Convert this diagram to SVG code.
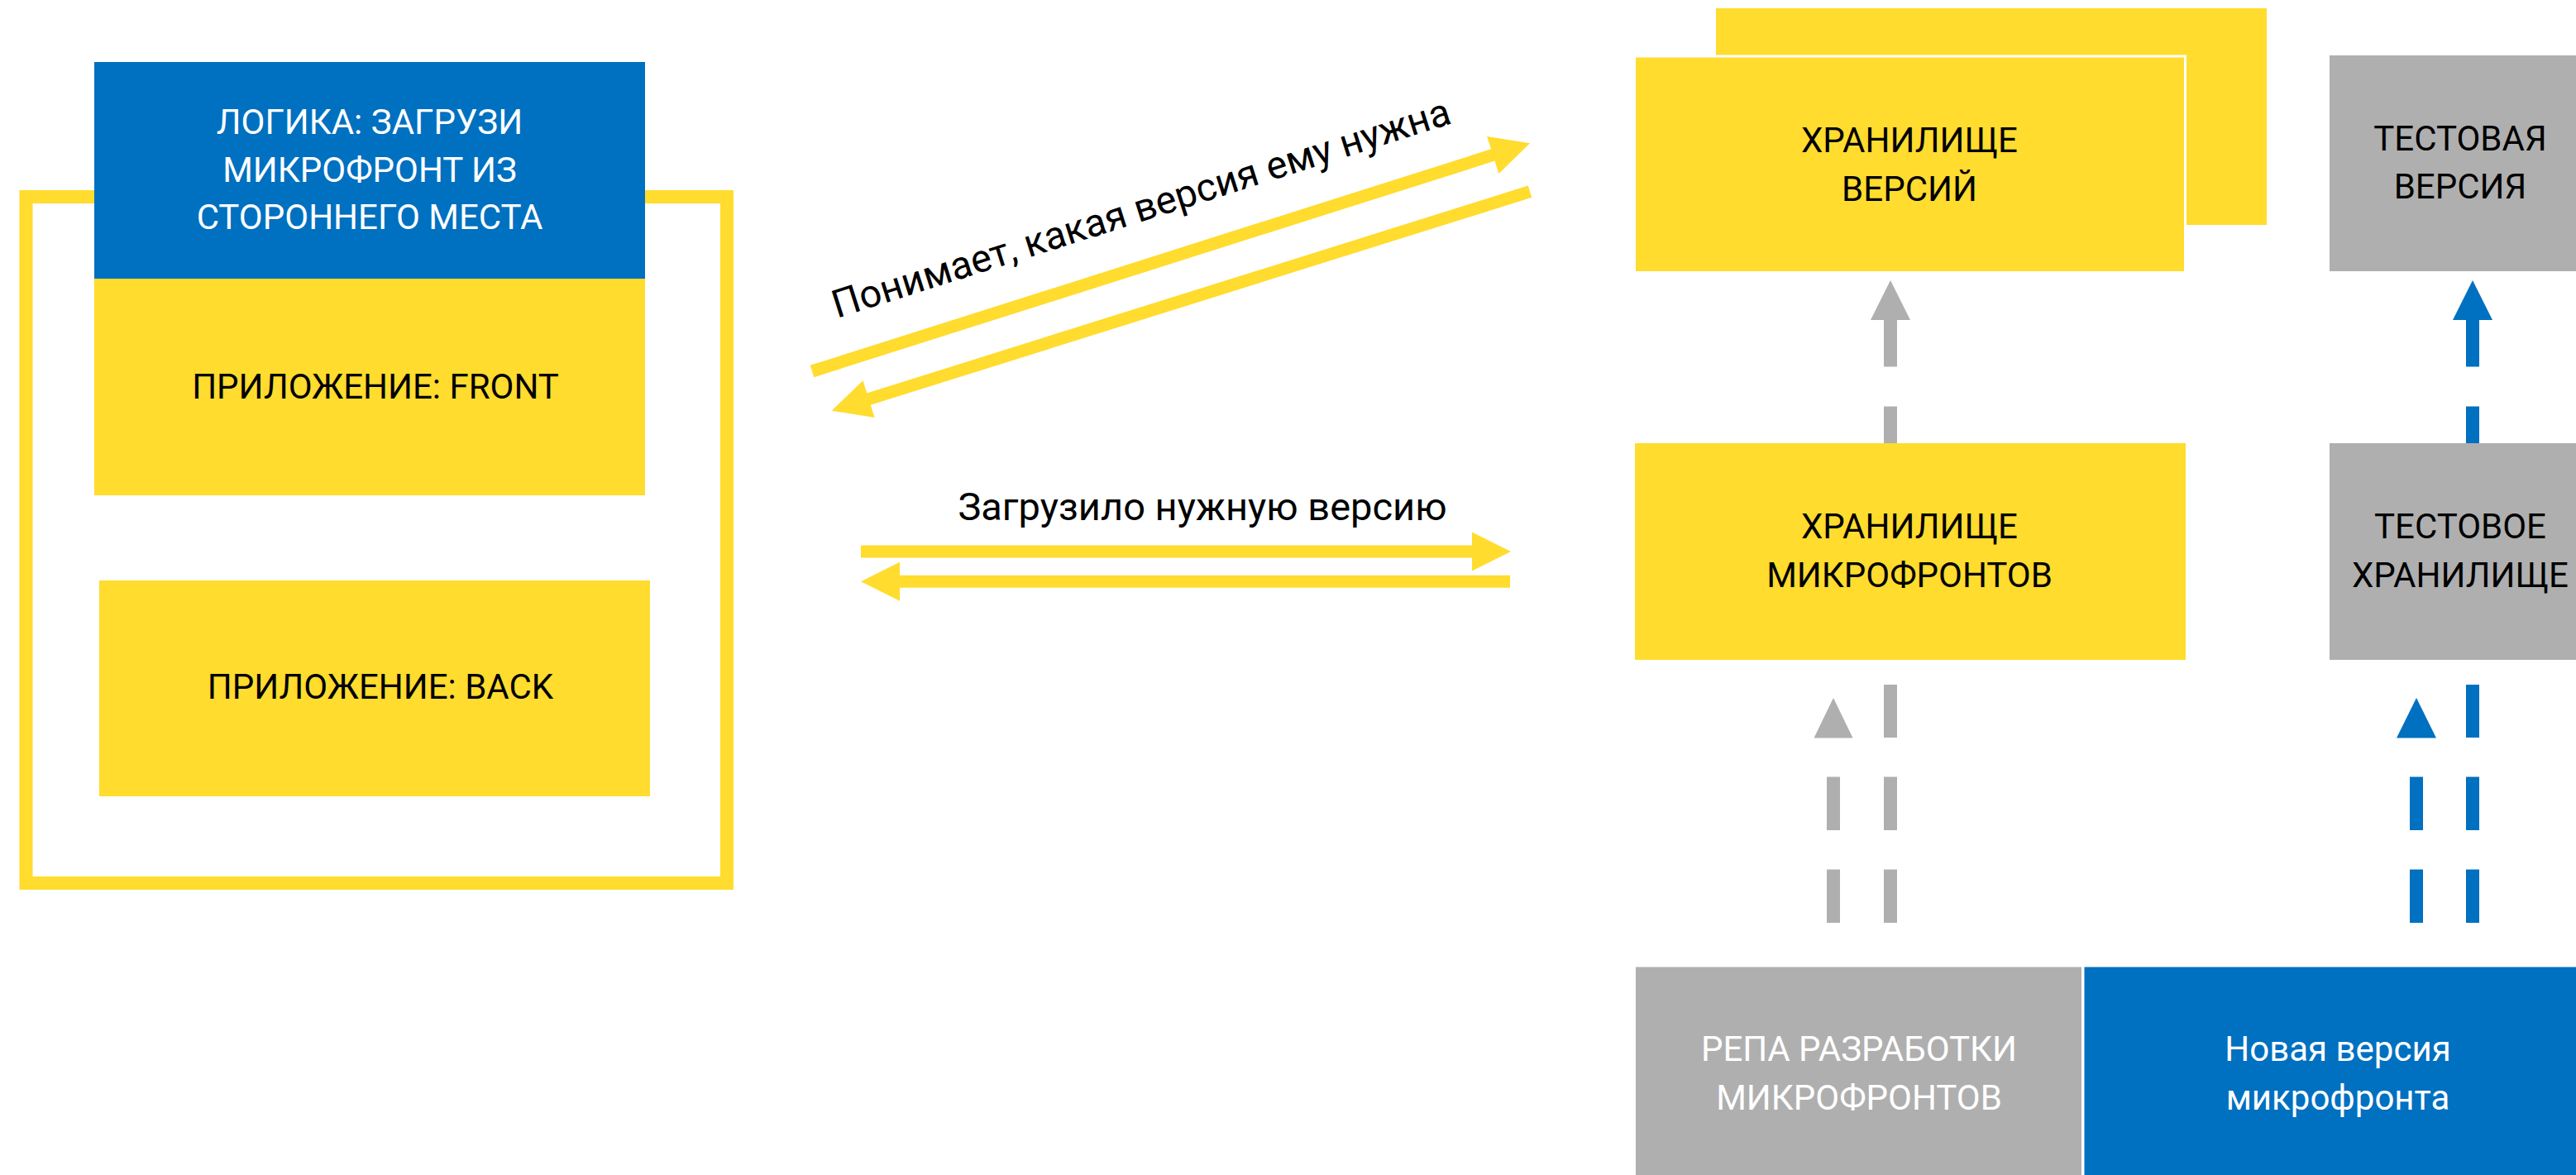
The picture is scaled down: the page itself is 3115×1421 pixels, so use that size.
<svg xmlns="http://www.w3.org/2000/svg" width="3115" height="1421" viewBox="0 0 3115 1421">
<style>
.y{fill:#FFDC2E}
.b{fill:#0070C0}
.g{fill:#AFAFAF}
text{font-family:Roboto,"Noto Sans","Liberation Sans",sans-serif;font-size:42px;text-anchor:middle;fill:#000}
text.w{fill:#fff}
text.lbl{font-size:47px}
.ay{stroke:#FFDC2E;stroke-width:15;fill:none}
.ag{stroke:#AFAFAF;stroke-width:16;fill:none}
.ab{stroke:#0070C0;stroke-width:16;fill:none}
</style>
<defs>
<marker id="hy" markerUnits="userSpaceOnUse" markerWidth="50" markerHeight="50" refX="1" refY="23.5" orient="auto" overflow="visible"><path d="M0,0 L47,23.5 L0,47 z" fill="#FFDC2E"/></marker>
<marker id="hg" markerUnits="userSpaceOnUse" markerWidth="50" markerHeight="50" refX="1" refY="24" orient="auto" overflow="visible"><path d="M0,0 L48,24 L0,48 z" fill="#AFAFAF"/></marker>
<marker id="hb" markerUnits="userSpaceOnUse" markerWidth="50" markerHeight="50" refX="1" refY="24" orient="auto" overflow="visible"><path d="M0,0 L48,24 L0,48 z" fill="#0070C0"/></marker>
</defs>
<rect width="3115" height="1421" fill="#fff"/>

<g id="app-frame">
<rect x="31.5" y="238" width="847.5" height="830" fill="none" stroke="#FFDC2E" stroke-width="16"/>
</g>

<g id="logic">
<rect class="b" x="114" y="75" width="666" height="262"/>
<text class="w" x="447" y="162">ЛОГИКА: ЗАГРУЗИ</text>
<text class="w" x="447" y="220">МИКРОФРОНТ ИЗ</text>
<text class="w" x="447" y="277">СТОРОННЕГО МЕСТА</text>
</g>

<g id="front">
<rect class="y" x="114" y="337" width="666" height="262"/>
<text x="454" y="482">ПРИЛОЖЕНИЕ: FRONT</text>
</g>

<g id="back">
<rect class="y" x="120" y="702" width="666" height="261"/>
<text x="460" y="845">ПРИЛОЖЕНИЕ: BACK</text>
</g>

<g id="versions-store">
<rect class="y" x="2075" y="10" width="666" height="262"/>
<rect x="1976" y="66.5" width="668" height="263" fill="#fff"/>
<rect class="y" x="1978" y="69.5" width="663" height="258.5"/>
<text x="2309" y="184">ХРАНИЛИЩЕ</text>
<text x="2309" y="243">ВЕРСИЙ</text>
</g>

<g id="test-version">
<rect class="g" x="2817" y="67" width="320" height="261"/>
<text x="2975" y="182">ТЕСТОВАЯ</text>
<text x="2975" y="240">ВЕРСИЯ</text>
</g>

<g id="microfront-store">
<rect class="y" x="1977" y="536" width="666" height="262"/>
<text x="2309" y="651">ХРАНИЛИЩЕ</text>
<text x="2309" y="710">МИКРОФРОНТОВ</text>
</g>

<g id="test-store">
<rect class="g" x="2817" y="536" width="320" height="262"/>
<text x="2975" y="651">ТЕСТОВОЕ</text>
<text x="2975" y="710">ХРАНИЛИЩЕ</text>
</g>

<g id="dev-repo">
<rect class="g" x="1978" y="1169.5" width="539" height="260"/>
<text class="w" x="2248" y="1283">РЕПА РАЗРАБОТКИ</text>
<text class="w" x="2248" y="1342">МИКРОФРОНТОВ</text>
</g>

<g id="new-version">
<rect class="b" x="2520.5" y="1169.5" width="620" height="260"/>
<text class="w" x="2827" y="1283">Новая версия</text>
<text class="w" x="2827" y="1342">микрофронта</text>
</g>

<g id="connectors">
<line class="ay" x1="982" y1="449" x2="1806.2" y2="187.2" marker-end="url(#hy)"/>
<line class="ay" x1="1850" y1="231.7" x2="1049.6" y2="482.9" marker-end="url(#hy)"/>
<text class="lbl" x="1012" y="385" transform="rotate(-17.6 1012 385)" style="text-anchor:start">Понимает, какая версия ему нужна</text>

<line class="ay" x1="1041" y1="667" x2="1781" y2="667" marker-end="url(#hy)"/>
<line class="ay" x1="1826" y1="703.3" x2="1087" y2="703.3" marker-end="url(#hy)"/>
<text class="lbl" x="1454" y="629">Загрузило нужную версию</text>

<path class="ag" d="M2286,536 V491.6 M2286,443.5 V386" marker-end="url(#hg)"/>
<path class="ab" d="M2990,536 V491.6 M2990,443.5 V386" marker-end="url(#hb)"/>

<path class="ag" d="M2286,1116 V1051.5 M2286,1004 V939.5 M2286,892 V828"/>
<path class="ag" d="M2217,1116 V1051.5 M2217,1004 V939.5"/>
<polygon class="g" points="2193.5,892.4 2217,844 2240.5,892.4"/>

<path class="ab" d="M2990,1116 V1051.5 M2990,1004 V939.5 M2990,892 V828"/>
<path class="ab" d="M2922,1116 V1051.5 M2922,1004 V939.5"/>
<polygon class="b" points="2898,892.4 2922,844 2946,892.4"/>
</g>
</svg>
